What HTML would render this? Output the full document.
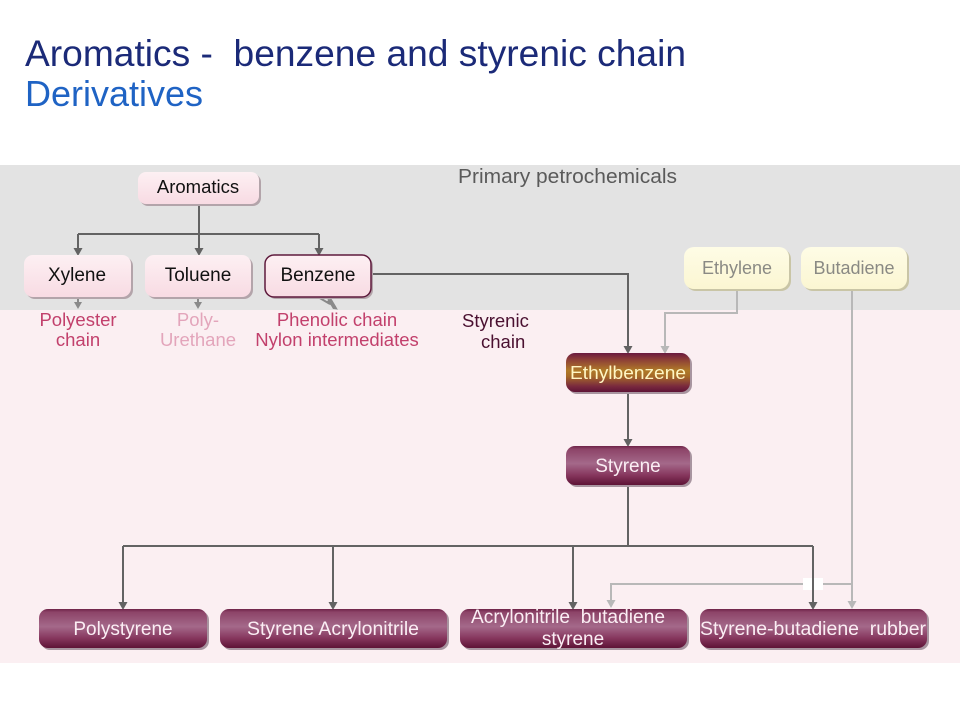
<!DOCTYPE html>
<html>
<head>
<meta charset="utf-8">
<style>
  html, body { margin: 0; padding: 0; background: #ffffff; }
  svg { display: block; }
  text { font-family: "Liberation Sans", Arial, sans-serif; white-space: pre; }
</style>
</head>
<body>
<svg width="960" height="720" viewBox="0 0 960 720" xmlns="http://www.w3.org/2000/svg">
  <defs>
    <linearGradient id="maroon" x1="0" y1="0" x2="0" y2="1">
      <stop offset="0" stop-color="#6e2348"/>
      <stop offset="0.08" stop-color="#8d4468"/>
      <stop offset="0.45" stop-color="#a4698a"/>
      <stop offset="0.75" stop-color="#86365d"/>
      <stop offset="1" stop-color="#5e1336"/>
    </linearGradient>
    <linearGradient id="ethyl" x1="0" y1="0" x2="0" y2="1">
      <stop offset="0" stop-color="#6a1a40"/>
      <stop offset="0.15" stop-color="#8a3a38"/>
      <stop offset="0.45" stop-color="#b07a28"/>
      <stop offset="0.6" stop-color="#a66a28"/>
      <stop offset="0.85" stop-color="#7a2a3e"/>
      <stop offset="1" stop-color="#5e1336"/>
    </linearGradient>
    <linearGradient id="pink" x1="0" y1="0" x2="0" y2="1">
      <stop offset="0" stop-color="#fdf0f3"/>
      <stop offset="1" stop-color="#f8dbe3"/>
    </linearGradient>
    <linearGradient id="yellow" x1="0" y1="0" x2="0" y2="1">
      <stop offset="0" stop-color="#fefce6"/>
      <stop offset="1" stop-color="#fbf6d2"/>
    </linearGradient>
  </defs>

  <!-- Bands -->
  <rect x="0" y="165" width="960" height="145" fill="#e3e3e3"/>
  <rect x="0" y="310" width="960" height="353" fill="#fbeff2"/>

  <!-- Title -->
  <text x="25" y="66" font-size="37" fill="#1b2a78" textLength="661" lengthAdjust="spacingAndGlyphs">Aromatics -&#160; benzene and styrenic chain</text>
  <text x="25" y="106" font-size="36" fill="#1f63c4">Derivatives</text>

  <text x="458" y="183" font-size="20" fill="#5a5a5a" textLength="219" lengthAdjust="spacingAndGlyphs">Primary petrochemicals</text>

  <!-- Light connectors -->
  <g fill="none" stroke="#b8b8b8" stroke-width="2">
    <path d="M737,289 V313 H665 V347"/>
    <path d="M852,289 V602"/>
    <path d="M852,584 H611 V601"/>
  </g>
  <g fill="#b8b8b8">
    <polygon points="660.5,346 669.5,346 665,354"/>
    <polygon points="847.5,601 856.5,601 852,609"/>
    <polygon points="606.5,600 615.5,600 611,608"/>
  </g>
  <rect x="803" y="578" width="20" height="12" fill="#ffffff"/>

  <!-- Dark connectors -->
  <g fill="none" stroke="#636363" stroke-width="2">
    <path d="M199,204 V234"/>
    <path d="M78,234 H319"/>
    <path d="M78,234 V249"/>
    <path d="M199,234 V249"/>
    <path d="M319,234 V249"/>
    <path d="M371,274 H628 V347"/>
    <path d="M628,392 V440"/>
    <path d="M628,485 V546"/>
    <path d="M123,546 H813"/>
    <path d="M123,546 V603"/>
    <path d="M333,546 V603"/>
    <path d="M573,546 V603"/>
    <path d="M813,546 V603"/>
  </g>
  <g fill="#636363">
    <polygon points="73.5,248 82.5,248 78,256"/>
    <polygon points="194.5,248 203.5,248 199,256"/>
    <polygon points="314.5,248 323.5,248 319,256"/>
    <polygon points="623.5,346 632.5,346 628,354"/>
    <polygon points="623.5,439 632.5,439 628,447"/>
    <polygon points="118.5,602 127.5,602 123,610"/>
    <polygon points="328.5,602 337.5,602 333,610"/>
    <polygon points="568.5,602 577.5,602 573,610"/>
    <polygon points="808.5,602 817.5,602 813,610"/>
  </g>

  <!-- Small arrows under first-row nodes -->
  <g fill="none" stroke="#8a8a8a" stroke-width="2">
    <path d="M78,297 V303"/>
    <path d="M198,297 V303"/>
    <path d="M318,297 L330,304"/>
  </g>
  <g fill="#8a8a8a">
    <polygon points="74,302 82,302 78,309"/>
    <polygon points="194,302 202,302 198,309"/>
    <polygon points="327.5,299.5 333,309 337.5,309.5 336,306.5 332,300 328,299"/>
    <polygon points="326,302 331,298 338,310"/>
  </g>

  <!-- Aromatics node -->
  <rect x="140" y="174" width="121" height="32" rx="8" fill="#b3a4aa"/>
  <rect x="138" y="172" width="121" height="32" rx="8" fill="url(#pink)"/>
  <text x="198" y="193" font-size="18.5" fill="#111" text-anchor="middle">Aromatics</text>

  <!-- Xylene / Toluene / Benzene -->
  <rect x="26" y="257" width="107" height="42" rx="9" fill="#b3a4aa"/>
  <rect x="24" y="255" width="107" height="42" rx="9" fill="url(#pink)"/>
  <text x="77" y="281" font-size="19" fill="#111" text-anchor="middle">Xylene</text>

  <rect x="147" y="257" width="106" height="42" rx="9" fill="#b3a4aa"/>
  <rect x="145" y="255" width="106" height="42" rx="9" fill="url(#pink)"/>
  <text x="198" y="281" font-size="19" fill="#111" text-anchor="middle">Toluene</text>

  <rect x="267" y="257" width="106" height="42" rx="9" fill="#b3a4aa"/>
  <rect x="265" y="255" width="106" height="42" rx="9" fill="url(#pink)" stroke="#5e1a3c" stroke-width="1.5"/>
  <text x="318" y="281" font-size="19" fill="#111" text-anchor="middle">Benzene</text>

  <!-- Labels below -->
  <g font-size="18.5" text-anchor="middle">
    <text x="78" y="326" fill="#c2406c">Polyester</text>
    <text x="78" y="346" fill="#c2406c">chain</text>
    <text x="198" y="326" fill="#e3a5bb">Poly-</text>
    <text x="198" y="346" fill="#e3a5bb">Urethane</text>
    <text x="337" y="326" fill="#c2406c">Phenolic chain</text>
    <text x="337" y="346" fill="#c2406c">Nylon intermediates</text>
  </g>
  <text x="462" y="327" font-size="18.5" fill="#4a1030">Styrenic</text>
  <text x="481" y="348" font-size="18.5" fill="#4a1030">chain</text>

  <!-- Ethylene / Butadiene -->
  <rect x="686" y="249" width="105" height="42" rx="10" fill="#c9c5a6"/>
  <rect x="684" y="247" width="105" height="42" rx="10" fill="url(#yellow)"/>
  <text x="737" y="274" font-size="18" fill="#8a8a84" text-anchor="middle">Ethylene</text>

  <rect x="803" y="249" width="106" height="42" rx="10" fill="#c9c5a6"/>
  <rect x="801" y="247" width="106" height="42" rx="10" fill="url(#yellow)"/>
  <text x="854" y="274" font-size="18" fill="#8a8a84" text-anchor="middle">Butadiene</text>

  <!-- Ethylbenzene -->
  <rect x="568" y="355" width="124" height="39" rx="9" fill="#a895a0"/>
  <rect x="566" y="353" width="124" height="39" rx="9" fill="url(#ethyl)"/>
  <text x="628" y="379" font-size="18.5" fill="#fff6c4" text-anchor="middle" textLength="116" lengthAdjust="spacingAndGlyphs">Ethylbenzene</text>

  <!-- Styrene -->
  <rect x="568" y="448" width="124" height="39" rx="9" fill="#a895a0"/>
  <rect x="566" y="446" width="124" height="39" rx="9" fill="url(#maroon)"/>
  <text x="628" y="472" font-size="19" fill="#fbeef4" text-anchor="middle">Styrene</text>

  <!-- Bottom nodes -->
  <rect x="41" y="611" width="168" height="39" rx="9" fill="#a895a0"/>
  <rect x="39" y="609" width="168" height="39" rx="9" fill="url(#maroon)"/>
  <text x="123" y="635" font-size="19" fill="#fbeef4" text-anchor="middle">Polystyrene</text>

  <rect x="222" y="611" width="227" height="39" rx="9" fill="#a895a0"/>
  <rect x="220" y="609" width="227" height="39" rx="9" fill="url(#maroon)"/>
  <text x="333" y="635" font-size="19" fill="#fbeef4" text-anchor="middle" textLength="172" lengthAdjust="spacingAndGlyphs">Styrene Acrylonitrile</text>

  <rect x="462" y="611" width="227" height="39" rx="9" fill="#a895a0"/>
  <rect x="460" y="609" width="227" height="39" rx="9" fill="url(#maroon)"/>
  <text x="568" y="623" font-size="19" fill="#fbeef4" text-anchor="middle" textLength="194" lengthAdjust="spacingAndGlyphs">Acrylonitrile&#160; butadiene</text>
  <text x="573" y="645" font-size="19" fill="#fbeef4" text-anchor="middle">styrene</text>

  <rect x="702" y="611" width="227" height="39" rx="9" fill="#a895a0"/>
  <rect x="700" y="609" width="227" height="39" rx="9" fill="url(#maroon)"/>
  <text x="813" y="635" font-size="19" fill="#fbeef4" text-anchor="middle" textLength="226" lengthAdjust="spacingAndGlyphs">Styrene-butadiene&#160; rubber</text>
</svg>
</body>
</html>
